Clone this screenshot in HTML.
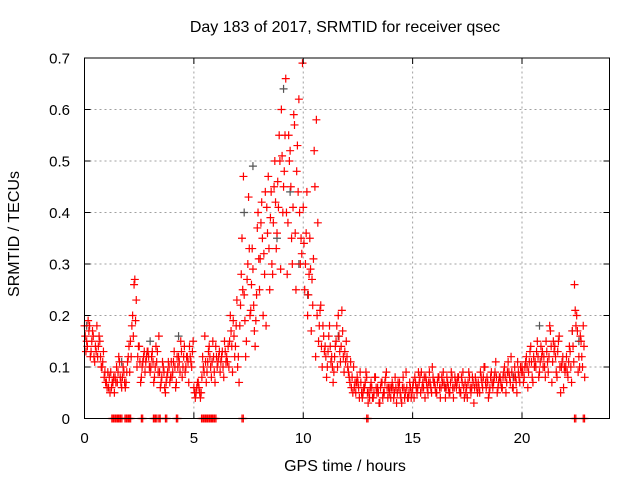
<!DOCTYPE html>
<html><head><meta charset="utf-8"><style>
body{margin:0;background:#fff;}
svg{display:block;font-family:"Liberation Sans",sans-serif;}
</style></head><body>
<svg id="c" width="640" height="480">
<text x="345" y="32" font-size="16" text-anchor="middle">Day 183 of 2017, SRMTID for receiver qsec</text>
<text x="345" y="471" font-size="16" text-anchor="middle">GPS time / hours</text>
<text transform="translate(19,234) rotate(-90)" font-size="16" text-anchor="middle">SRMTID / TECUs</text>
<g id="grid"></g><g id="marks"></g><g id="axes"></g>
</svg>
<script>
const xTicks=[0,5,10,15,20];
const yTicks=[0,0.1,0.2,0.3,0.4,0.5,0.6,0.7];
const yTickLabels=["0","0.1","0.2","0.3","0.4","0.5","0.6","0.7"];
const startHour=0, stepHour=0.1;
const valsA=[.18,.15,.17,.13,.16,.14,.12,.15,.10,.08,
.07,.06,.09,.07,.08,.07,.11,.06,.09,.07,
.12,.15,.20,.27,.10,.14,.08,.12,.11,.13,
.09,.13,.08,.11,.16,.07,.10,.05,.09,.07,
.08,.13,.07,.12,.15,.10,.09,.12,.14,.10,
.06,.05,.07,.04,.12,.16,.09,.14,.08,.12,
.14,.11,.09,.13,.15,.12,.10,.17,.19,.14,
.10,.18,.35,.24,.15,.43,.21,.29,.14,.37,
.25,.42,.32,.18,.47,.39,.28,.50,.36,.55,
.60,.45,.66,.38,.52,.30,.57,.48,.62,.35,
.41,.30,.20,.35,.27,.52,.58,.15,.22,.18,
.14,.10,.18,.12,.09,.15,.20,.11,.17,.13,
.12,.08,.06,.10,.05,.07,.09,.04,.06,.08,
.05,.07,.04,.08,.06,.03,.07,.05,.09,.06,
.04,.06,.08,.05,.07,.03,.06,.09,.04,.06,
.06,.08,.05,.07,.09,.06,.08,.05,.07,.10,
.07,.05,.08,.06,.09,.04,.07,.05,.08,.06,
.06,.08,.05,.09,.07,.04,.08,.06,.03,.07,
.07,.09,.06,.10,.08,.05,.09,.07,.11,.06,
.08,.06,.10,.07,.09,.12,.06,.08,.11,.07,
.10,.08,.12,.09,.14,.07,.11,.15,.09,.12,
.12,.15,.09,.17,.11,.14,.08,.16,.10,.06,
.10,.08,.13,.17,.26,.20,.12,.15,.18];
const valsB=[.13,.19,.12,.17,.11,.18,.16,.10,.13,.07,
.09,.05,.07,.05,.10,.12,.07,.10,.06,.11,
.09,.18,.26,.23,.14,.07,.11,.09,.13,.10,
.12,.07,.14,.09,.06,.11,.06,.08,.10,.11,
.11,.06,.10,.09,.08,.14,.12,.07,.11,.15,
.04,.07,.05,.08,.09,.07,.13,.10,.15,.07,
.10,.13,.12,.08,.11,.14,.20,.09,.12,.23,
.07,.28,.47,.12,.30,.20,.33,.17,.24,.31,
.38,.20,.44,.36,.25,.30,.45,.33,.41,.29,
.40,.55,.28,.50,.35,.59,.25,.44,.30,.69,
.25,.44,.28,.17,.31,.12,.38,.21,.10,.13,
.08,.16,.11,.07,.14,.10,.13,.21,.09,.15,
.09,.11,.05,.07,.08,.04,.05,.06,.09,.03,
.06,.04,.08,.05,.03,.07,.05,.08,.04,.06,
.07,.05,.03,.06,.04,.08,.05,.04,.07,.05,
.04,.06,.09,.05,.07,.04,.06,.09,.05,.07,
.05,.08,.04,.07,.06,.08,.05,.09,.04,.07,
.08,.05,.07,.04,.06,.09,.05,.07,.08,.05,
.05,.07,.10,.06,.04,.08,.06,.09,.05,.08,
.06,.09,.05,.11,.07,.06,.10,.05,.08,.09,
.07,.11,.06,.13,.08,.10,.13,.08,.14,.10,
.08,.11,.18,.07,.13,.09,.15,.05,.12,.09,
.09,.14,.07,.11,.18,.09,.16,.10,.08];
const valsC=[.16,.14,.18,.15,.12,.13,.14,.12,.11,.09,
.06,.08,.06,.08,.07,.09,.08,.08,.07,.09,
.14,.12,.16,.19,.12,.11,.10,.13,.12,.12,
.10,.11,.10,.13,.09,.08,.09,.07,.11,.08,
.09,.10,.12,.11,.13,.12,.10,.11,.12,.13,
.05,.06,.06,.05,.10,.11,.11,.12,.11,.09,
.12,.12,.11,.10,.13,.11,.15,.14,.16,.18,
.12,.22,.25,.19,.27,.33,.26,.22,.19,.40,
.31,.35,.28,.41,.33,.44,.38,.42,.46,.50,
.51,.48,.40,.55,.45,.41,.36,.53,.40,.32,
.34,.36,.24,.29,.22,.45,.20,.18,.14,.16,
.12,.13,.14,.10,.12,.18,.16,.14,.12,.11,
.10,.07,.08,.06,.07,.06,.07,.05,.07,.05,
.04,.06,.05,.06,.05,.06,.04,.07,.06,.05,
.06,.04,.06,.07,.05,.06,.04,.06,.05,.04,
.07,.07,.06,.08,.06,.08,.07,.07,.06,.08,
.06,.07,.06,.08,.07,.06,.06,.07,.06,.08,
.07,.06,.08,.06,.05,.07,.06,.08,.06,.06,
.06,.08,.08,.07,.07,.06,.07,.08,.08,.07,
.07,.08,.08,.09,.08,.09,.08,.07,.09,.10,
.09,.10,.10,.11,.11,.12,.10,.12,.11,.13,
.10,.13,.12,.14,.15,.12,.13,.10,.11,.10,
.12,.11,.10,.14,.21,.17,.10,.12,.14];
const zeroTimes=[1.25,1.35,1.45,1.55,1.65,1.85,1.95,2.05,2.6,3.15,3.25,3.4,3.7,4.2,5.35,5.45,5.55,5.65,5.75,5.85,5.95,7.2,12.9,22.4,22.8];
const grayTimes=[0.1,1.7,3.0,4.3,7.3,7.7,8.8,9.1,9.4,9.8,10.2,11.6,16.5,19.6,20.8,22.3,22.6];
const grayVals=[0.18,0.11,0.15,0.16,0.40,0.49,0.35,0.64,0.44,0.30,0.24,0.16,0.06,0.08,0.18,0.17,0.15];

const X0=84.5,X1=609.5,Y0=418.5,Y1=58,XMAX=24,YMAX=0.7;
const xs=v=>X0+(X1-X0)*v/XMAX, ys=v=>Y0-(Y0-Y1)*v/YMAX;
const NS="http://www.w3.org/2000/svg";
function mk(t,a,p){const e=document.createElementNS(NS,t);for(const k in a)e.setAttribute(k,a[k]);p.appendChild(e);return e;}
const grid=document.getElementById('grid'),marks=document.getElementById('marks'),axes=document.getElementById('axes');
xTicks.forEach((t,i)=>{const x=xs(t);
 if(i>0){const g=mk('line',{x1:x,x2:x,y1:Y0,y2:Y1,stroke:'#a0a0a0','stroke-dasharray':'2,3'},grid);
 }
 mk('line',{x1:x,x2:x,y1:Y0,y2:Y0-6,stroke:'#000'},axes);mk('line',{x1:x,x2:x,y1:Y1,y2:Y1+6,stroke:'#000'},axes);
 const l=mk('text',{x:x,y:443,'font-size':15,'text-anchor':'middle'},axes);l.textContent=t;
 });
yTicks.forEach((t,i)=>{const y=ys(t);
 if(i>0&&i<yTicks.length-1){const g=mk('line',{x1:X0,x2:X1,y1:y,y2:y,stroke:'#a0a0a0','stroke-dasharray':'2,3'},grid);
 }
 mk('line',{x1:X0,x2:X0+6,y1:y,y2:y,stroke:'#000'},axes);mk('line',{x1:X1,x2:X1-6,y1:y,y2:y,stroke:'#000'},axes);
 const l=mk('text',{x:70,y:y+5.5,'font-size':15,'text-anchor':'end'},axes);l.textContent=yTickLabels[i];
 });
const frame=mk('rect',{x:X0,y:Y1,width:X1-X0,height:Y0-Y1,fill:'none',stroke:'#000'},axes);

function plus(t,v,col,name){const x=xs(t),y=ys(v);
 const p=mk('path',{d:`M${x-4},${y}H${x+4}M${x},${y-4}V${y+4}`,stroke:col,'stroke-width':1.2,fill:'none'},marks);
 }
grayTimes.forEach((t,i)=>plus(t,grayVals[i],'#555','gray-point'));
valsA.forEach((v,i)=>plus(startHour+i*stepHour,v,'#f00','red-point'));
valsC.forEach((v,i)=>plus(startHour+i*stepHour+0.033,v,'#f00','red-point'));
valsB.forEach((v,i)=>plus(startHour+i*stepHour+0.066,v,'#f00','red-point'));
zeroTimes.forEach(t=>{plus(t,0,'#f00','zero-point');plus(t+0.06,0,'#f00','zero-point');});
</script>
</body></html>
